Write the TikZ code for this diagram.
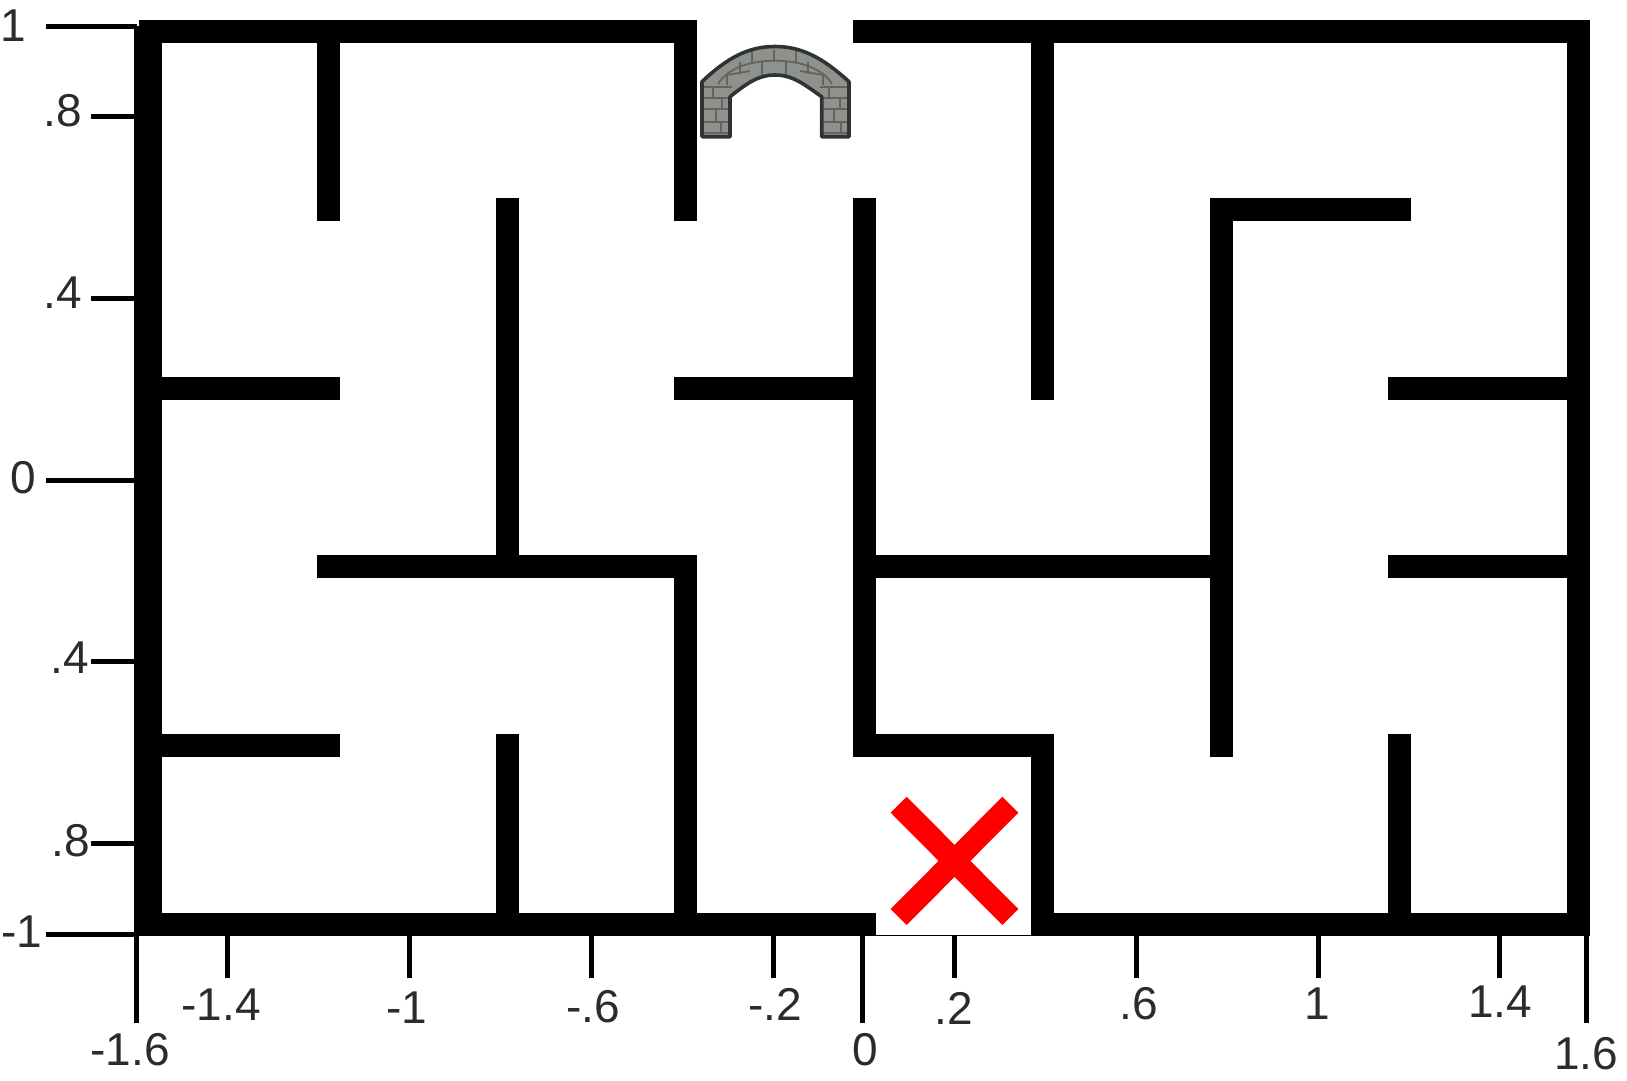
\documentclass[tikz,border=0pt]{standalone}
\usepackage{fontspec}
\setmainfont{Liberation Sans}
\definecolor{bridgeFill}{HTML}{8F918C}
\definecolor{bridgeJoint}{HTML}{62655F}
\definecolor{bridgeEdge}{HTML}{2E3436}
\definecolor{labelInk}{HTML}{2B2B2B}
\tikzset{
  wall/.style={line width=23pt, line cap=rect, draw=black},
  cross/.style={line width=22.6pt, draw=red},
  axisline/.style={line width=4.5pt, draw=black},
  ticks/.style={line width=5pt, draw=black},
  ticklab/.style={inner sep=0pt, text=labelInk, font=\fontsize{46}{46}\selectfont},
  joint/.style={line width=1.8pt, draw=bridgeJoint}
}

\begin{document}
\begin{tikzpicture}[x=1pt, y=-1pt]
  \useasboundingbox (0,0) rectangle (1627,1080);

  % --- axes
  \draw[axisline] (136.5,26) -- (136.5,1023);
  \draw[line width=1.5pt] (136.5,935.5) -- (1586,935.5);
  \draw[ticks] (46,26) -- (137,26);
  \draw[ticks] (46,480) -- (137,480);
  \draw[ticks] (46,934) -- (137,934);
  \foreach \yy in {116.8,298,661.6,843}
    \draw[ticks] (91,\yy) -- (137,\yy);
  \foreach \xx in {227.5,409,591,773,954,1136,1318,1499}
    \draw[ticks] (\xx,935) -- (\xx,978);
  \foreach \xx in {862.5,1586}
    \draw[ticks] (\xx,935) -- (\xx,1023);

  % --- left labels
  \node[ticklab] (ly10) at (13,26)   {1};
  \node[ticklab] (ly08) at (63,111)  {.8};
  \node[ticklab] (ly04) at (63,293)  {.4};
  \node[ticklab] (ly00) at (23,478)  {0};
  \node[ticklab] (lyn4) at (70,658)  {.4};
  \node[ticklab] (lyn8) at (71,841)  {.8};
  \node[ticklab] (lyn1) at (22,932)  {-1};

  % --- bottom labels
  \node[ticklab] (lxn16) at (130,1050) {-1.6};
  \node[ticklab] (lxn14) at (221,1005) {-1.4};
  \node[ticklab] (lxn10) at (407,1008) {-1};
  \node[ticklab] (lxn06) at (593,1007) {-.6};
  \node[ticklab] (lxn02) at (775,1004) {-.2};
  \node[ticklab] (lx00)  at (865,1050) {0};
  \node[ticklab] (lx02)  at (954,1008) {.2};
  \node[ticklab] (lx06)  at (1139,1004) {.6};
  \node[ticklab] (lx10)  at (1317,1004) {1};
  \node[ticklab] (lx14)  at (1500,1002) {1.4};
  \node[ticklab] (lx16)  at (1586,1054) {1.6};

  % --- maze, in cells
  \begin{scope}[shift={(150,31)}, x=178.55pt, y=-178.6pt]
    % outer walls
    \draw[wall] (3,1) -- (3,0) -- (0,0) -- (0,5) -- (4,5);
    \draw[wall] (4,0) -- (8,0) -- (8,5) -- (5,5) -- (5,4) -- (4,4) -- (4,1);
    % inner walls
    \draw[wall] (1,0) -- (1,1);
    \draw[wall] (2,1) -- (2,3);
    \draw[wall] (0,2) -- (1,2);
    \draw[wall] (3,2) -- (4,2);
    \draw[wall] (5,0) -- (5,2);
    \draw[wall] (7,1) -- (6,1) -- (6,4);
    \draw[wall] (7,2) -- (8,2);
    \draw[wall] (7,3) -- (8,3);
    \draw[wall] (1,3) -- (3,3) -- (3,5);
    \draw[wall] (4,3) -- (6,3);
    \draw[wall] (0,4) -- (1,4);
    \draw[wall] (2,4) -- (2,5);
    \draw[wall] (7,4) -- (7,5);
  \end{scope}

  % --- red cross
  \draw[cross] (898.7,804.7) -- (1010.3,917);
  \draw[cross] (1010.3,804.7) -- (898.7,917);

  % --- bridge
  \begin{scope}
    \clip (702,136.7) -- (702,81.7) .. controls (727,58) and (748,46.5) .. (775,46.5)
      .. controls (802,46.5) and (823,58) .. (849,81.7) -- (849,136.7) -- (821.7,136.7)
      -- (821.7,96.7) .. controls (805,85) and (793,75) .. (775,75)
      .. controls (757,75) and (745,85) .. (730,96.7) -- (730,136.7) -- cycle;
    \fill[bridgeFill] (695,40) rectangle (855,140);
    % arch courses
    \draw[joint] (718,84) .. controls (728,68) and (750,60.7) .. (775,60.7)
      .. controls (800,60.7) and (822,68) .. (832,84);
    \draw[joint] (727,75) -- (750,71);
    \draw[joint] (800,71) -- (823,75);
    \foreach \xx/\yy/\zz in {752/50/62,774/50/62,796/50/62,740/62/74,762/62/75,786/62/75,808/62/74,727/73/85,823/73/85}
      \draw[joint] (\xx,\yy) -- (\xx,\zz);
    % leg courses
    \foreach \yy in {87,98,109,122,133} {
      \draw[joint] (700,\yy) -- (732,\yy);
      \draw[joint] (820,\yy) -- (851,\yy);
    }
    \foreach \xx/\yy/\zz in {713/87/98,722/98/109,716/109/122,721/122/133,829/87/98,840/98/109,834/109/122,841/122/133}
      \draw[joint] (\xx,\yy) -- (\xx,\zz);
  \end{scope}
  \draw[line width=3.6pt, draw=bridgeEdge, line join=round] (702,136.7) -- (702,81.7)
    .. controls (727,58) and (748,46.5) .. (775,46.5)
    .. controls (802,46.5) and (823,58) .. (849,81.7) -- (849,136.7) -- (821.7,136.7)
    -- (821.7,96.7) .. controls (805,85) and (793,75) .. (775,75)
    .. controls (757,75) and (745,85) .. (730,96.7) -- (730,136.7) -- cycle;
\end{tikzpicture}
\end{document}
